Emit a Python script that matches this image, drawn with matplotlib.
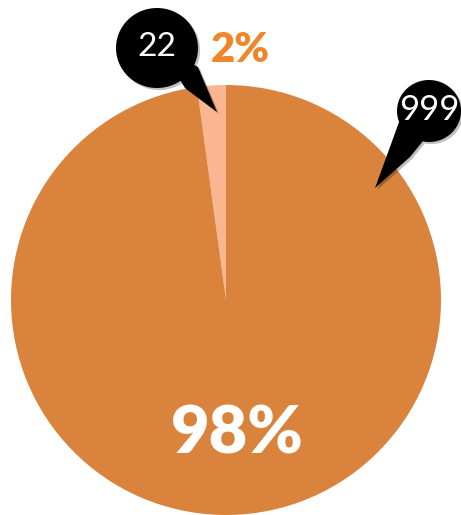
import numpy as np
import matplotlib
matplotlib.use('Agg')
from matplotlib import pyplot as plt
from matplotlib.patches import Polygon
import matplotlib.patheffects as pe

# values of the two slices
values = [22, 999]
labels = ['22', '999']
colors = ['#F9B690', '#DA833D']
W, H = 461, 515

plt.rcParams['font.family'] = ['Lato', 'DejaVu Sans']

fig = plt.figure(figsize=(W / 100, H / 100), dpi=100)
ax = fig.add_axes([0, 0, 1, 1])

# pie centre and radius in pixels (y measured from the bottom)
cx, cy, r = 226, H - 300, 215
ax.pie(values, colors=colors, startangle=90, counterclock=True,
       center=(cx, cy), radius=r, frame=True,
       wedgeprops={'linewidth': 0})

total = sum(values)
pct = [round(v / total * 100) for v in values]


def callout(center, rx, ry, a_from, a_to, tail, text, fs):
    # a_from/a_to: angles (deg, data coords) where the tail leaves the bubble
    x0, y0 = center[0], H - center[1]
    ang = np.radians(np.linspace(a_from, a_to + (360 if a_to < a_from else 0), 80))
    pts = [(x0 + rx * np.cos(a), y0 + ry * np.sin(a)) for a in ang]
    pts += [(px, H - py) for px, py in tail]
    poly = Polygon(pts, closed=True, facecolor='black', edgecolor='none', zorder=5,
                   path_effects=[pe.SimplePatchShadow(offset=(1.5, -1.5), alpha=0.25), pe.Normal()])
    ax.add_patch(poly)
    ax.text(x0, y0 + 1, text, color='white', fontsize=fs, ha='center', va='center', zorder=6)


callout((157, 48), 41, 40, -25, -55, [(185, 88), (217, 112), (198, 67)], labels[0], 24)
callout((429, 111), 32, 31, -100, -160,
        [(399, 122), (390, 147), (375, 188), (410, 157), (423, 141)], labels[1], 25)

ax.text(240, H - 50, f'{pct[0]}%', color='#F0862A', fontsize=30, fontweight='heavy',
        ha='center', va='center')
ax.text(237, H - 434, f'{pct[1]}%', color='white', fontsize=48, fontweight='heavy',
        ha='center', va='center')

ax.set_xlim(0, W)
ax.set_ylim(0, H)
ax.set_aspect('auto')
ax.axis('off')
fig.savefig('out.png', dpi=100)
